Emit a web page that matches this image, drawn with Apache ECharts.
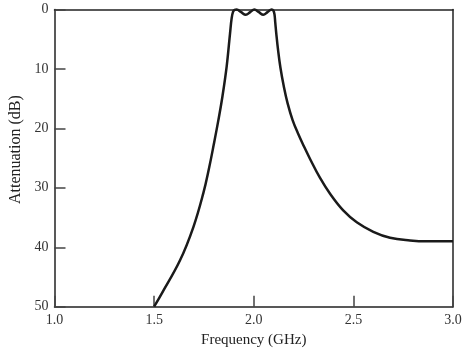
<!DOCTYPE html>
<html>
<head>
<meta charset="utf-8">
<script src="https://cdn.jsdelivr.net/npm/echarts@6/dist/echarts.min.js"></script>
<style>
html, body { margin: 0; padding: 0; background: #fff; }
#chart { width: 466px; height: 352px; }
</style>
</head>
<body>
<div id="chart"></div>
<script>
// frequency (GHz) and attenuation (dB)
var freq = [1.5, 1.538, 1.63, 1.697, 1.747, 1.775, 1.80, 1.822, 1.842, 1.864, 1.881, 1.889, 1.896, 1.904,
  1.914, 1.937, 1.960, 1.982, 2.003, 2.026, 2.048, 2.069, 2.090,
  2.098, 2.104, 2.108, 2.113, 2.122, 2.134, 2.15, 2.17, 2.195, 2.224, 2.25, 2.282, 2.332, 2.383, 2.449,
  2.517, 2.6, 2.684, 2.784, 2.87, 3.0]
var atten = [50, 47.8, 42.2, 36.6, 30.9, 26.8, 22.6, 18.7, 14.8, 9.6, 4.0, 1.5, 0.4, 0.05,
  0, 0.45, 0.9, 0.45, 0, 0.45, 0.9, 0.45, 0,
  0.15, 0.8, 2.2, 4.0, 6.8, 9.8, 12.8, 15.8, 18.6, 21.0, 22.9, 25.1, 28.3, 31.0, 33.8,
  35.8, 37.4, 38.4, 38.85, 39.0, 39.0]

var points = freq.map(function (f, i) { return [f, atten[i]] })
var chart = echarts.init(document.getElementById('chart'))
var font = 'Liberation Serif'

chart.setOption({
  animation: false,
  grid: {
    left: 54.5, right: 13, top: 9.5, bottom: 45.3,
    outerBoundsMode: 'none'
  },
  xAxis: [{
    type: 'value', min: 1, max: 3, interval: 0.5,
    name: 'Frequency (GHz)', nameLocation: 'middle', nameGap: 25,
    nameTextStyle: { fontFamily: font, fontSize: 15, color: '#222' },
    axisLine: { onZero: false, lineStyle: { color: '#222', width: 1.5 } },
    axisTick: { show: true, inside: true, length: 11, lineStyle: { color: '#444', width: 1.5 } },
    axisLabel: {
      margin: 7, fontFamily: font, fontSize: 14, color: '#333',
      formatter: function (v) { return v.toFixed(1) }
    },
    splitLine: { show: false }
  }, {
    // top edge of the frame
    type: 'value', min: 1, max: 3, position: 'top',
    axisLine: { show: true, onZero: false, lineStyle: { color: '#222', width: 1.5 } },
    axisTick: { show: false }, axisLabel: { show: false }, splitLine: { show: false }
  }],
  yAxis: [{
    type: 'value', min: 0, max: 50, interval: 10, inverse: true,
    name: 'Attenuation (dB)', nameLocation: 'middle', nameGap: 29,
    nameTextStyle: { fontFamily: font, fontSize: 16, color: '#222', padding: [0, 0, 0, 17] },
    axisLine: { show: true, onZero: false, lineStyle: { color: '#222', width: 1.5 } },
    axisTick: { show: true, inside: true, length: 11, lineStyle: { color: '#444', width: 1.5 } },
    axisLabel: { margin: 6, fontFamily: font, fontSize: 14, color: '#333' },
    splitLine: { show: false }
  }, {
    // right edge of the frame
    type: 'value', min: 0, max: 50, inverse: true, position: 'right',
    axisLine: { show: true, onZero: false, lineStyle: { color: '#222', width: 1.5 } },
    axisTick: { show: false }, axisLabel: { show: false }, splitLine: { show: false }
  }],
  series: [{
    type: 'line',
    data: points,
    smooth: 0.4,
    symbol: 'none',
    clip: false,
    lineStyle: { color: '#1a1a1a', width: 2.5 }
  }]
})
</script>
</body>
</html>
